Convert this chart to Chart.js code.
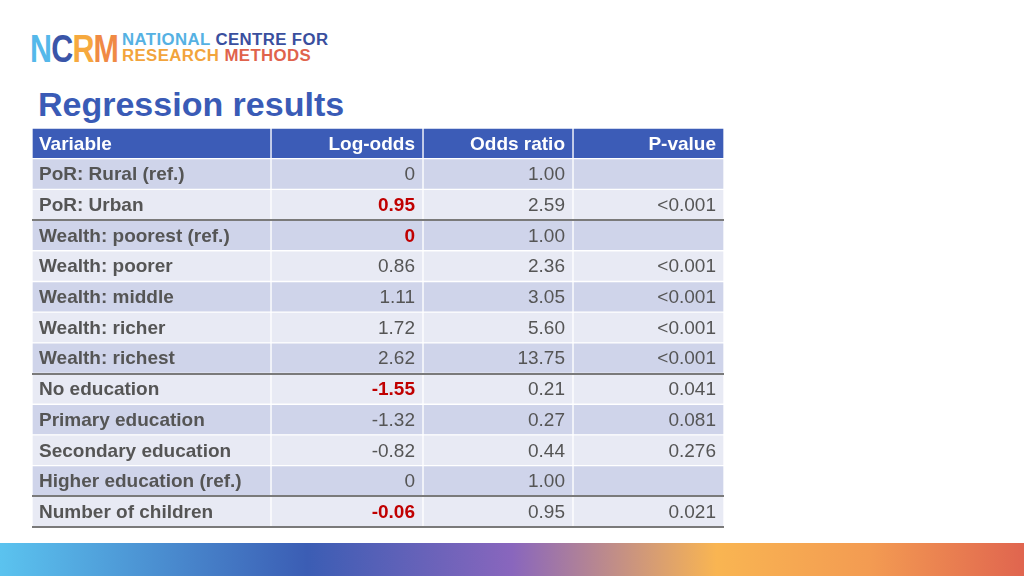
<!DOCTYPE html>
<html>
<head>
<meta charset="utf-8">
<script src="https://cdn.jsdelivr.net/npm/chart.js@4/dist/chart.umd.min.js"></script>
<style>
  html, body { margin: 0; padding: 0; background: #fff; }
  #page { position: relative; width: 1024px; height: 576px; overflow: hidden; font-family: "Liberation Sans", Arial, sans-serif; }
  #tableChart { position: absolute; left: 0; top: 0; }
  .logo-mark { position: absolute; left: 30px; top: 29px; font-size: 39px; line-height: 1; font-weight: bold; transform: scaleX(0.78); transform-origin: left top; letter-spacing: -1px; }
  .logo-text { position: absolute; left: 122px; font-size: 16.8px; line-height: 1; font-weight: bold; white-space: nowrap; letter-spacing: 0.4px; }
  #title { position: absolute; left: 38px; top: 87px; font-size: 34px; line-height: 1; font-weight: bold; color: #3A5BB6; }
  #footerBar { position: absolute; left: 0; top: 543px; width: 1024px; height: 33px;
    background: linear-gradient(90deg, #5BC3EF 0%, #3B5DB4 30%, #8966BD 50%, #F9B552 70%, #F39B52 85%, #E0654F 100%); }
</style>
</head>
<body>
<div id="page">
  <div class="logo-mark"><span style="color:#55B8EA">N</span><span style="color:#3A55A8">C</span><span style="color:#F6A93E">R</span><span style="color:#F08A44">M</span></div>
  <div class="logo-text" style="top:32px"><span style="color:#55B1E3">NATIONAL</span> <span style="color:#3A4F9E">CENTRE FOR</span></div>
  <div class="logo-text" style="top:48px"><span style="color:#F2A43C">RESEARCH</span> <span style="color:#E0634C">METHODS</span></div>
  <div id="title">Regression results</div>
  <canvas id="tableChart" width="1024" height="576"></canvas>
  <div id="footerBar"></div>
</div>
<script>
const headers = ['Variable', 'Log-odds', 'Odds ratio', 'P-value'];
const variables = [
    'PoR: Rural (ref.)', 'PoR: Urban', 'Wealth: poorest (ref.)', 'Wealth: poorer',
    'Wealth: middle', 'Wealth: richer', 'Wealth: richest', 'No education',
    'Primary education', 'Secondary education', 'Higher education (ref.)', 'Number of children'
];
const logOdds = [0, 0.95, 0, 0.86, 1.11, 1.72, 2.62, -1.55, -1.32, -0.82, 0, -0.06];
const oddsRatios = [1.00, 2.59, 1.00, 2.36, 3.05, 5.60, 13.75, 0.21, 0.27, 0.44, 1.00, 0.95];
const pValues = ['', '<0.001', '', '<0.001', '<0.001', '<0.001', '<0.001', '0.041', '0.081', '0.276', '', '0.021'];
const highlighted = [1, 2, 7, 11];   // log-odds shown in red
const groupStarts = [2, 7, 11];      // rows with a dark rule above

// column edges in x-scale units (1 unit = 1px of the chart area)
const colEdges = [0, 239, 391, 541, 692];

const rowLabels = ['header'].concat(variables);
const headerBlue = '#3C5CB7';
const rowDark = '#CFD4EA';
const rowLight = '#E8EAF4';
const fontFamily = '"Liberation Sans", Arial, sans-serif';

function cellText(row, col) {
    if (col === 0) return variables[row];
    if (col === 1) return logOdds[row] === 0 ? '0' : logOdds[row].toFixed(2);
    if (col === 2) return oddsRatios[row].toFixed(2);
    return pValues[row];
}

const datasets = headers.map((h, c) => ({
    label: h,
    data: rowLabels.map(() => [colEdges[c], colEdges[c + 1]]),
    backgroundColor: rowLabels.map((r, i) => i === 0 ? headerBlue : (i % 2 === 1 ? rowDark : rowLight)),
    borderColor: '#ffffff',
    borderWidth: 1,
    borderSkipped: false,
    barPercentage: 1,
    categoryPercentage: 1,
    grouped: false
}));

const tablePlugin = {
    id: 'tableText',
    afterDatasetsDraw(chart) {
        const ctx = chart.ctx;
        const xs = chart.scales.x;
        const ys = chart.scales.y;
        const left = xs.getPixelForValue(colEdges[0]);
        const right = xs.getPixelForValue(colEdges[colEdges.length - 1]);
        const half = (ys.getPixelForValue(1) - ys.getPixelForValue(0)) / 2;

        ctx.save();
        // dark group rules + bottom rule
        ctx.strokeStyle = '#7A7A7A';
        ctx.lineWidth = 2;
        groupStarts.concat([variables.length]).forEach(r => {
            const yy = r === variables.length
                ? Math.round(ys.getPixelForValue(r) + half)
                : Math.round(ys.getPixelForValue(r + 1) - half);
            ctx.beginPath();
            ctx.moveTo(left, yy);
            ctx.lineTo(right, yy);
            ctx.stroke();
        });

        ctx.textBaseline = 'middle';
        // header
        ctx.font = 'bold 19px ' + fontFamily;
        ctx.fillStyle = '#ffffff';
        headers.forEach((h, c) => {
            const y = ys.getPixelForValue(0) + 1;
            if (c === 0) {
                ctx.textAlign = 'left';
                ctx.fillText(h, left + 7, y);
            } else {
                ctx.textAlign = 'right';
                ctx.fillText(h, xs.getPixelForValue(colEdges[c + 1]) - 8, y);
            }
        });

        // body
        variables.forEach((v, r) => {
            const y = ys.getPixelForValue(r + 1) + 1;
            for (let c = 0; c < 4; c++) {
                const txt = cellText(r, c);
                if (!txt) continue;
                if (c === 0) {
                    ctx.font = 'bold 19px ' + fontFamily;
                    ctx.fillStyle = '#555555';
                    ctx.textAlign = 'left';
                    ctx.fillText(txt, left + 7, y);
                } else {
                    const red = c === 1 && highlighted.includes(r);
                    ctx.font = (red ? 'bold ' : '') + '19px ' + fontFamily;
                    ctx.fillStyle = red ? '#C00000' : '#555555';
                    ctx.textAlign = 'right';
                    ctx.fillText(txt, xs.getPixelForValue(colEdges[c + 1]) - 8, y);
                }
            }
        });
        ctx.restore();
    }
};

new Chart(document.getElementById('tableChart'), {
    type: 'bar',
    data: { labels: rowLabels, datasets: datasets },
    options: {
        indexAxis: 'y',
        responsive: false,
        animation: false,
        layout: { padding: { left: 32, right: 300, top: 128, bottom: 49 } },
        plugins: { legend: { display: false }, tooltip: { enabled: false } },
        scales: {
            x: { type: 'linear', min: colEdges[0], max: colEdges[colEdges.length - 1], display: false },
            y: { type: 'category', display: false, grid: { display: false } }
        }
    },
    plugins: [tablePlugin]
});
</script>
</body>
</html>
